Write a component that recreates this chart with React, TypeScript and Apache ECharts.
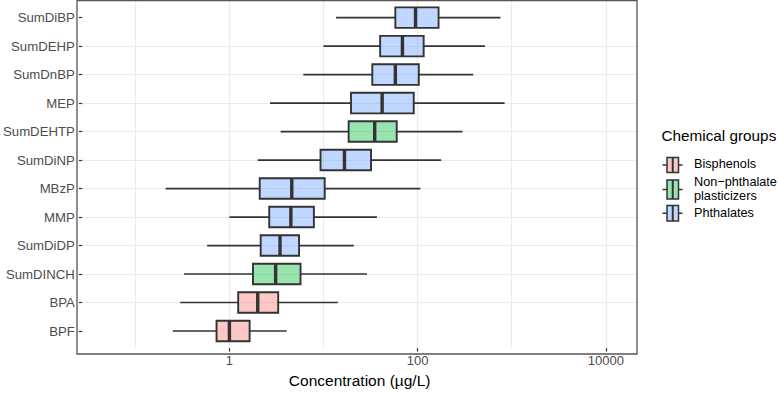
import React, { useEffect, useRef } from 'react';
import * as echarts from 'echarts';

// Chemicals, top to bottom
const categories = [
  'SumDiBP', 'SumDEHP', 'SumDnBP', 'MEP', 'SumDEHTP', 'SumDiNP',
  'MBzP', 'MMP', 'SumDiDP', 'SumDINCH', 'BPA', 'BPF',
];
const chemicalGroup = [
  'Phthalates', 'Phthalates', 'Phthalates', 'Phthalates', 'Non-phthalate plasticizers', 'Phthalates',
  'Phthalates', 'Phthalates', 'Phthalates', 'Non-phthalate plasticizers', 'Bisphenols', 'Bisphenols',
];

// Box statistics (µg/L)
const whiskerLow = [13.6, 10.0, 6.1, 2.7, 3.5, 2.0, 0.21, 1.0, 0.58, 0.33, 0.30, 0.25];
const quartile1 = [58, 40, 33, 19.6, 18.5, 9.3, 2.1, 2.65, 2.15, 1.78, 1.24, 0.73];
const medians = [95, 69, 58, 42, 35, 16.7, 4.6, 4.5, 3.45, 3.1, 2.0, 1.0];
const quartile3 = [167, 116, 103, 91, 60, 32, 10.3, 7.9, 5.5, 5.7, 3.3, 1.64];
const whiskerHigh = [760, 520, 390, 840, 300, 178, 107, 37, 21, 29, 14.2, 4.06];

// Legend groups
const groupKeys = ['Bisphenols', 'Non-phthalate plasticizers', 'Phthalates'];
const groupLabels = ['Bisphenols', 'Non\u2212phthalate\nplasticizers', 'Phthalates'];
const groupFills = ['rgba(248,118,109,0.4)', 'rgba(0,186,56,0.4)', 'rgba(97,156,255,0.4)'];

// Axis range and labelled ticks
const xMin = 0.02734;
const xMax = 21460;
const xTickValues = [1, 100, 10000];
const yMin = -0.6;
const yMax = 11.6;

const EDGE = '#333333';
const FONT = '"Liberation Sans", Arial, Helvetica, sans-serif';

const PANEL = { left: 77, top: 0.5, right: 637, bottom: 354 };

function makeRenderer(fill: string) {
  return (_params: any, api: any) => {
    const idx = api.value(0);
    const lo = api.value(1);
    const q1 = api.value(2);
    const med = api.value(3);
    const q3 = api.value(4);
    const hi = api.value(5);
    const centre = api.coord([med, idx]);
    const a = api.coord([med, idx - 0.36])[1];
    const b = api.coord([med, idx + 0.36])[1];
    const yTop = Math.min(a, b);
    const yBot = Math.max(a, b);
    const xLo = api.coord([lo, idx])[0];
    const xQ1 = api.coord([q1, idx])[0];
    const xMed = centre[0];
    const xQ3 = api.coord([q3, idx])[0];
    const xHi = api.coord([hi, idx])[0];
    const cy = centre[1];
    return {
      type: 'group',
      children: [
        { type: 'line', shape: { x1: xLo, y1: cy, x2: xQ1, y2: cy }, style: { stroke: EDGE, lineWidth: 1.7 } },
        { type: 'line', shape: { x1: xQ3, y1: cy, x2: xHi, y2: cy }, style: { stroke: EDGE, lineWidth: 1.7 } },
        {
          type: 'rect',
          shape: { x: xQ1, y: yTop, width: xQ3 - xQ1, height: yBot - yTop },
          style: { fill, stroke: EDGE, lineWidth: 1.9 },
        },
        { type: 'line', shape: { x1: xMed, y1: yTop, x2: xMed, y2: yBot }, style: { stroke: EDGE, lineWidth: 3.4 } },
      ],
    };
  };
}

function legendGraphics() {
  const boxes = [
    { y0: 157.5, y1: 172.5, ty: 164 },
    { y0: 180, y1: 199, ty: 189 },
    { y0: 205.5, y1: 221, ty: 213.3 },
  ];
  const items: any[] = [
    {
      type: 'text',
      x: 661.5,
      y: 135,
      style: { text: 'Chemical groups', font: `15.3px ${FONT}`, fill: '#000', verticalAlign: 'middle', align: 'left' },
    },
  ];
  groupLabels.forEach((label, g) => {
    const k = boxes[g];
    const cy = (k.y0 + k.y1) / 2;
    items.push(
      { type: 'line', shape: { x1: 662.5, y1: cy, x2: 682.5, y2: cy }, style: { stroke: EDGE, lineWidth: 1.5 } },
      {
        type: 'rect',
        shape: { x: 667, y: k.y0, width: 11.5, height: k.y1 - k.y0 },
        style: { fill: '#fff', stroke: 'none' },
      },
      {
        type: 'rect',
        shape: { x: 667, y: k.y0, width: 11.5, height: k.y1 - k.y0 },
        style: { fill: groupFills[g], stroke: EDGE, lineWidth: 1.5 },
      },
      { type: 'line', shape: { x1: 672.75, y1: k.y0, x2: 672.75, y2: k.y1 }, style: { stroke: EDGE, lineWidth: 2 } },
      {
        type: 'text',
        x: 694,
        y: k.ty,
        style: {
          text: label,
          font: `12.7px ${FONT}`,
          fill: '#000',
          verticalAlign: 'middle',
          align: 'left',
          lineHeight: 13.4,
        },
      },
    );
  });
  items.push({
    type: 'rect',
    z: 50,
    shape: {
      x: PANEL.left,
      y: PANEL.top,
      width: PANEL.right - PANEL.left,
      height: PANEL.bottom - PANEL.top,
    },
    style: { fill: 'none', stroke: '#555555', lineWidth: 1.3 },
  });
  return items;
}

export default function App() {
  const ref = useRef<HTMLDivElement>(null);

  useEffect(() => {
    if (!ref.current) return;
    const chart = echarts.init(ref.current, null, { renderer: 'svg' });

    const series = groupKeys.map((key, g) => ({
      name: key,
      type: 'custom',
      xAxisIndex: 0,
      yAxisIndex: 0,
      renderItem: makeRenderer(groupFills[g]),
      encode: { x: [1, 2, 3, 4, 5], y: 0 },
      data: categories
        .map((_, i) => i)
        .filter((i) => chemicalGroup[i] === key)
        .map((i) => [i, whiskerLow[i], quartile1[i], medians[i], quartile3[i], whiskerHigh[i]]),
      z: 5,
    }));

    chart.setOption({
      animation: false,
      backgroundColor: '#ffffff',
      textStyle: { fontFamily: FONT },
      grid: {
        left: PANEL.left,
        top: PANEL.top,
        right: 778 - PANEL.right,
        bottom: 393 - PANEL.bottom,
        containLabel: false,
      },
      xAxis: [
        {
          type: 'log',
          logBase: 10,
          min: xMin,
          max: xMax,
          axisLine: { show: false },
          axisTick: { show: false },
          axisLabel: { show: false },
          splitLine: {
            show: true,
            showMinLine: false,
            showMaxLine: false,
            lineStyle: { color: '#ebebeb', width: 1.2 },
          },
        },
        {
          type: 'log',
          logBase: 10,
          min: xMin,
          max: xMax,
          position: 'bottom',
          axisLine: { show: false },
          axisTick: {
            show: true,
            customValues: xTickValues,
            length: 3.5,
            lineStyle: { color: EDGE, width: 1.2 },
          },
          axisLabel: {
            show: true,
            customValues: xTickValues,
            formatter: (v: number) => String(Math.round(v)),
            color: '#4d4d4d',
            fontSize: 13,
            fontFamily: FONT,
            margin: 6,
          },
          splitLine: { show: false },
          name: 'Concentration (\u00b5g/L)',
          nameLocation: 'middle',
          nameGap: 23.5,
          nameTextStyle: { color: '#000', fontSize: 15.5, fontFamily: FONT, verticalAlign: 'top' },
        },
      ],
      yAxis: {
        type: 'value',
        inverse: true,
        min: yMin,
        max: yMax,
        splitNumber: 12,
        axisLine: { show: false },
        axisTick: {
          show: true,
          customValues: categories.map((_, i) => i),
          length: 3.5,
          lineStyle: { color: EDGE, width: 1.2 },
        },
        axisLabel: {
          show: true,
          customValues: categories.map((_, i) => i),
          formatter: (v: number) => categories[Math.round(v)] ?? '',
          color: '#4d4d4d',
          fontSize: 13.2,
          fontFamily: FONT,
          margin: 7.5,
        },
        splitLine: {
          show: true,
          showMinLine: false,
          showMaxLine: false,
          lineStyle: { color: '#ebebeb', width: 1.2 },
        },
      },
      graphic: legendGraphics(),
      series,
    });

    return () => chart.dispose();
  }, []);

  return <div ref={ref} style={{ position: 'absolute', left: 0, top: 0, width: 778, height: 393 }} />;
}
